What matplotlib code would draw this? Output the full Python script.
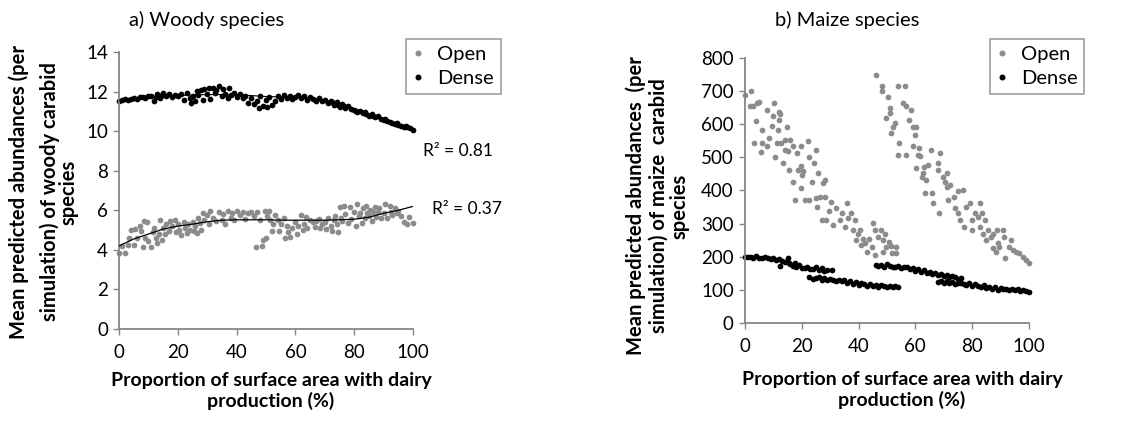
import matplotlib
matplotlib.use("Agg")
import matplotlib.pyplot as plt
from matplotlib.lines import Line2D

plt.rcParams['font.family'] = ['Lato', 'DejaVu Sans']

# ---------------- Panel a: woody species ----------------
a_dense_x = [0, 1, 2, 3, 4, 5, 6, 7, 8, 9, 10, 11, 12, 12.5, 13, 14, 14.5, 15, 16, 17, 18, 19, 20, 21, 22, 23, 24, 24.5,
             25, 26, 26.5, 27, 28, 28.5, 29, 30, 30.5, 31, 32, 32.5, 33, 34, 35, 35.5, 36, 37, 37.5, 38, 39, 40, 41, 42,
             43, 44, 45, 46, 47, 47.5, 48, 49, 50, 50.5, 51, 52, 53, 54, 55, 56, 57, 58, 59, 60, 61, 62, 63, 64, 65, 66,
             67, 68, 69, 70, 71, 72, 72.5, 73, 74, 74.5, 75, 76, 76.5, 77, 78, 79, 80, 80.5, 81, 82, 83, 83.5, 84, 85,
             86, 86.5, 87, 88, 89, 90, 90.5, 91, 92, 93, 94, 94.5, 95, 96, 97, 97.5, 98, 99, 100]
a_dense_y = [11.55, 11.6, 11.62, 11.58, 11.65, 11.7, 11.62, 11.72, 11.75, 11.7, 11.78, 11.8, 11.55, 11.75, 11.9, 11.7,
             11.85, 11.95, 11.8, 11.9, 11.75, 11.85, 11.8, 11.9, 11.6, 11.95, 11.7, 11.4, 11.8, 11.5, 12.05, 11.85,
             12.1, 11.6, 12.15, 11.9, 12.2, 11.65, 12.2, 11.95, 12.1, 12.3, 11.8, 12.15, 11.9, 11.7, 12.2, 11.85,
             11.95, 11.75, 11.9, 11.7, 11.8, 11.4, 11.7, 11.35, 11.5, 11.15, 11.8, 11.25, 11.6, 11.2, 11.75, 11.3,
             11.55, 11.8, 11.65, 11.85, 11.7, 11.8, 11.65, 11.75, 11.85, 11.7, 11.8, 11.6, 11.75, 11.65, 11.55, 11.7,
             11.5, 11.6, 11.4, 11.55, 11.45, 11.3, 11.45, 11.3, 11.2, 11.35, 11.25, 11.15, 11.25, 11.1, 11.05, 11.0,
             10.95, 11.0, 10.9, 10.95, 10.85, 10.75, 10.85, 10.75, 10.7, 10.75, 10.6, 10.55, 10.6, 10.5, 10.45, 10.4,
             10.35, 10.4, 10.3, 10.25, 10.2, 10.25, 10.2, 10.15, 10.05]

a_open_x = [0, 2, 1, 3, 3.5, 4, 5, 5.5, 6, 7, 7.5, 8, 8.5, 9, 9.5, 10, 11, 11.5, 12, 12.5, 13, 13.5, 14, 14.5, 15, 15.5,
            16, 17, 17.5, 18, 19, 19.5, 20, 20.5, 21, 22, 22.5, 23, 23.5, 24, 25, 25.5, 26, 26.5, 27, 27.5, 28, 28.5,
            29, 30, 30.5, 31, 32, 33, 34, 35, 35.5, 36, 37, 38, 38.5, 39, 40, 41, 42, 43, 44, 45, 46, 46.5, 47, 48,
            48.5, 49, 49.5, 50, 50.5, 51, 51.5, 52, 52.5, 53, 54, 54.5, 55, 56, 56.5, 57, 57.5, 58, 59, 60, 60.5, 61,
            62, 62.5, 63, 63.5, 64, 65, 66, 66.5, 67, 68, 68.5, 69, 70, 70.5, 71, 72, 72.5, 73, 73.5, 74, 74.5, 75,
            75.5, 76, 76.5, 77, 78, 78.5, 79, 80, 80.5, 81, 81.5, 82, 82.5, 83, 83.5, 84, 84.5, 85, 85.5, 86, 86.5,
            87, 87.5, 88, 88.5, 89, 90, 90.5, 91, 92, 92.5, 93, 94, 94.5, 95, 96, 97, 98, 98.5, 100]
a_open_y = [3.85, 3.85, 4.2, 4.25, 4.6, 5.0, 4.25, 5.05, 4.6, 5.2, 4.95, 4.15, 5.45, 4.6, 5.4, 4.45, 4.15, 4.9, 5.1, 4.6,
            4.35, 4.8, 5.5, 4.5, 5.1, 4.8, 5.3, 4.95, 5.45, 5.2, 5.5, 4.9, 5.3, 5.0, 4.75, 5.4, 5.1, 4.85, 5.3, 5.0,
            5.4, 4.95, 5.2, 4.85, 5.6, 5.35, 5.0, 5.85, 5.5, 5.75, 5.3, 5.95, 5.6, 5.45, 5.9, 5.5, 5.8, 5.3, 5.95,
            5.6, 5.85, 5.5, 5.95, 5.75, 5.9, 5.55, 5.85, 5.9, 5.7, 4.15, 5.9, 5.5, 4.2, 4.5, 5.95, 4.6, 5.7, 5.95,
            5.5, 4.95, 5.3, 5.75, 5.5, 4.95, 5.3, 5.6, 4.6, 5.2, 4.9, 4.65, 5.1, 5.4, 4.8, 5.2, 5.75, 5.0, 5.3, 5.65,
            5.1, 5.5, 5.4, 5.15, 5.45, 5.55, 5.1, 5.3, 5.4, 5.05, 5.6, 5.2, 4.95, 5.5, 5.7, 5.3, 4.9, 6.15, 5.6, 5.45,
            6.2, 5.8, 5.35, 6.15, 5.55, 5.9, 5.2, 6.3, 5.7, 5.85, 5.35, 6.1, 5.6, 6.2, 5.85, 5.7, 6.0, 5.45, 5.9,
            6.15, 5.65, 5.9, 6.1, 5.6, 5.85, 6.3, 5.6, 6.2, 5.9, 5.75, 6.1, 5.85, 5.95, 5.7, 5.4, 5.3, 5.65, 5.35]

a_trend_x = [0, 5, 10, 15, 20, 25, 30, 35, 40, 45, 50, 55, 60, 65, 70, 75, 80, 85, 90, 95, 100]
a_dense_trend = [11.55, 11.62, 11.7, 11.76, 11.8, 11.83, 11.85, 11.85, 11.85, 11.8, 11.75, 11.73, 11.7, 11.67, 11.58,
                 11.35, 11.08, 10.88, 10.62, 10.38, 10.15]
a_open_trend = [4.2, 4.55, 4.8, 5.05, 5.2, 5.3, 5.42, 5.5, 5.52, 5.52, 5.52, 5.5, 5.5, 5.5, 5.5, 5.52, 5.55, 5.65,
                5.85, 6.0, 6.2]

# ---------------- Panel b: maize species ----------------
b_open_x = [0, 2.3, 1.8, 2.7, 4, 5, 4.3, 3.2, 5.9, 5.5, 6, 7.6, 8.3, 7.9, 10, 10.3, 9.7, 10.6, 12, 11.8, 12.1, 12.5,
            11.2, 12.8, 14.7, 14.2, 13.5, 14, 15.3, 16, 15.6, 17, 17, 18.4, 17.6, 19.6, 18.8, 19.6, 20.5, 20.2, 19.8,
            21.1, 22.6, 22.3, 22.5, 23.7, 24.4, 25, 25, 25.6, 26.4, 25.2, 27, 27.5, 28.1, 28.7, 28.3, 30.4, 29.6, 31,
            32.2, 33.6, 34.3, 35.8, 35.2, 36.4, 37.5, 37.9, 38.6, 39.1, 39.9, 40.4, 40.8, 41.4, 42.2, 42.8, 43.8,
            44.7, 45.2, 45.8, 45.8, 46.9, 47.8, 48.7, 48.5, 49.3, 49.8, 50.6, 51.3, 51.8, 53.3, 53.3,
            46, 48.3, 48.4, 50.2, 49.8, 51, 51, 52.2, 52.8, 51.6, 54.2, 53.8, 53.8, 56.2, 55.6, 56.8, 56.6, 57.7,
            58.6, 59.2, 60.4, 59.8, 59.2, 61.3, 60.1, 60.9, 61.7, 62.8, 62.2, 63.1, 63.9, 64.5, 63.3, 65.6, 66, 66.2,
            68, 67.8, 68.6, 68.2, 69.8, 70.4, 71, 71.3, 72.2, 71.6, 73.5, 73.9, 75.1, 74.9, 75.7, 76.8, 77.1, 78,
            79.2, 79.8, 80.1, 81, 81.9, 82.7, 82.9, 83.6, 84.5, 83.9, 85.6, 85, 86.8, 87.3, 87.3, 88.5, 89.1, 88.7,
            89.6, 91, 91.1, 91.7, 93.1, 93.7, 94.5, 95.6, 96.4, 97.8, 99, 100]
b_open_y = [687, 699, 656, 654, 610, 668, 664, 543, 583, 515, 543, 644, 558, 535, 624, 663, 595, 502, 637, 583, 613,
            632, 543, 543, 591, 553, 482, 523, 518, 551, 462, 533, 427, 513, 371, 533, 462, 474, 460, 447, 407, 371,
            500, 548, 371, 427, 482, 523, 376, 454, 381, 351, 311, 424, 381, 311, 432, 366, 339, 296, 346, 311, 331,
            361, 291, 316, 331, 281, 311, 250, 270, 281, 235, 255, 240, 215, 255, 230, 301, 281, 205, 260, 281, 215,
            250, 270, 230, 245, 232, 210, 210, 230,
            750, 716, 699, 681, 619, 649, 634, 593, 603, 573, 543, 508, 716, 716, 664, 654, 508, 613, 644, 593, 593,
            568, 533, 528, 467, 508, 503, 452, 442, 472, 432, 478, 392, 523, 392, 361, 482, 462, 513, 331, 442, 427,
            452, 412, 417, 371, 381, 346, 397, 331, 311, 402, 291, 351, 361, 281, 311, 331, 321, 361, 291, 331, 311,
            270, 281, 250, 260, 270, 225, 215, 240, 281, 230, 281, 260, 195, 230, 250, 220, 215, 210, 200, 190, 180]

b_dense_x = [0, 1, 2, 3, 4, 5, 6, 7, 8, 9, 10, 11, 12, 12.5, 13, 14, 15, 15.5, 16, 17, 17.5, 18, 19, 20, 21, 22, 23,
             24, 25, 26, 27, 28, 29, 30.5,
             22.7, 24, 25, 26, 27, 28, 29, 30, 31, 32, 33, 34, 35, 36, 37, 38, 39, 40, 41, 42, 43, 44, 45, 46, 47,
             48, 49, 50, 51, 52, 53, 54,
             46, 47, 48, 49, 50, 51, 52, 53, 54, 55, 56, 57, 58, 59, 60, 61, 62, 63, 64, 65, 66, 67, 68, 69, 70, 71,
             72, 73, 74, 75, 76,
             68, 69, 70, 71, 72, 73, 74, 75, 76, 77, 78, 79, 80, 81, 82, 83, 84, 85, 86, 87, 88, 89, 90, 91, 92, 93,
             94, 95, 96, 97, 98, 99, 100]
b_dense_y = [200, 198, 200, 197, 202, 196, 195, 198, 197, 193, 196, 190, 192, 172, 188, 185, 195, 180, 178, 172, 182,
             168, 175, 166, 165, 170, 163, 162, 168, 160, 165, 158, 160, 160,
             140, 133, 135, 138, 130, 135, 131, 133, 130, 128, 131, 126, 130, 122, 128, 118, 124, 115, 120, 117, 113,
             118, 112, 116, 110, 114, 112, 108, 113, 109, 111, 108,
             175, 172, 176, 170, 178, 172, 170, 168, 172, 165, 168, 170, 162, 166, 158, 163, 155, 160, 150, 155, 148,
             152, 145, 148, 142, 145, 140, 143, 138, 132, 135,
             125, 128, 122, 126, 120, 124, 118, 122, 120, 118, 115, 120, 113, 117, 112, 108, 114, 106, 110, 104, 108,
             100, 106, 102, 104, 100, 103, 99, 102, 96, 100, 97, 95]

a_ylabel_lines = ["Mean predicted abundances (per", "simulation) of woody carabid", "species"]
b_ylabel_lines = ["Mean predicted abundances  (per", "simulation) of maize  carabid", "species"]
xlabel_text = "Proportion of surface area with dairy\nproduction (%)"

open_color = "#8c8c8c"
dense_color = "#000000"
spine_color = "#868686"

W, H = 1127, 423
fig = plt.figure(figsize=(W / 100, H / 100), dpi=100)
axa = fig.add_axes([0.1056, 0.2222, 0.2609, 0.6548])
axb = fig.add_axes([0.661, 0.2364, 0.252, 0.6265])

ms = 17


def style(ax):
    for s in ["top", "right"]:
        ax.spines[s].set_visible(False)
    for s in ["left", "bottom"]:
        ax.spines[s].set_color(spine_color)
        ax.spines[s].set_linewidth(1.3)
    ax.tick_params(axis="both", colors=spine_color, labelcolor="black", labelsize=13.5, length=4, width=1.0)
    ax.tick_params(axis="x", pad=7)
    ax.tick_params(axis="y", pad=4)


def px(x, y):
    return x / W, 1 - y / H


# panel a
axa.scatter(a_open_x, a_open_y, s=ms, color=open_color, linewidths=0, clip_on=False, zorder=2)
axa.scatter(a_dense_x, a_dense_y, s=ms, color=dense_color, linewidths=0, clip_on=False, zorder=2)
axa.plot(a_trend_x, a_dense_trend, color="black", lw=0.8, zorder=3)
axa.plot(a_trend_x, a_open_trend, color="black", lw=0.9, zorder=3)
axa.set_xlim(0, 100)
axa.set_ylim(0, 14)
axa.set_xticks([0, 20, 40, 60, 80, 100])
axa.set_yticks([0, 2, 4, 6, 8, 10, 12, 14])
style(axa)
fig.text(*px(423, 151), "R² = 0.81", fontsize=12.5, ha="left", va="center")
fig.text(*px(432, 209), "R² = 0.37", fontsize=12.5, ha="left", va="center")
fig.text(*px(207, 20), "a) Woody species", fontsize=14.5, ha="center", va="center")
for xc, line in zip([18.5, 49.5, 68.5], a_ylabel_lines):
    fig.text(*px(xc, 192), line, rotation=90, fontsize=14.5, fontweight="bold", ha="center", va="center")
fig.text(*px(271, 391), xlabel_text, fontsize=14, fontweight="bold", ha="center", va="center", linespacing=1.15)

# panel b
axb.scatter(b_open_x, b_open_y, s=ms, color=open_color, linewidths=0, clip_on=False, zorder=2)
axb.scatter(b_dense_x, b_dense_y, s=ms, color=dense_color, linewidths=0, clip_on=False, zorder=2)
axb.set_xlim(0, 100)
axb.set_ylim(0, 800)
axb.set_xticks([0, 20, 40, 60, 80, 100])
axb.set_yticks(range(0, 801, 100))
style(axb)
fig.text(*px(847, 20), "b) Maize species", fontsize=14.5, ha="center", va="center")
for xc, line in zip([636, 659, 680], b_ylabel_lines):
    fig.text(*px(xc, 206), line, rotation=90, fontsize=14.5, fontweight="bold", ha="center", va="center")
fig.text(*px(902, 390), xlabel_text, fontsize=14, fontweight="bold", ha="center", va="center", linespacing=1.15)

# legends
handles = [Line2D([], [], ls="", marker="o", ms=3.3, color=open_color, label="Open"),
           Line2D([], [], ls="", marker="o", ms=3.3, color=dense_color, label="Dense")]
for cx in [453.5, 1037]:
    leg = fig.legend(handles=handles, loc="center", bbox_to_anchor=px(cx, 66.5), bbox_transform=fig.transFigure,
                     frameon=True, fancybox=False, fontsize=14.5, handlelength=0.5, handletextpad=0.7,
                     borderpad=0.35, labelspacing=0.3, borderaxespad=0)
    leg.get_frame().set_edgecolor(spine_color)
    leg.get_frame().set_linewidth(1.2)

fig.savefig("out.png", dpi=100)
